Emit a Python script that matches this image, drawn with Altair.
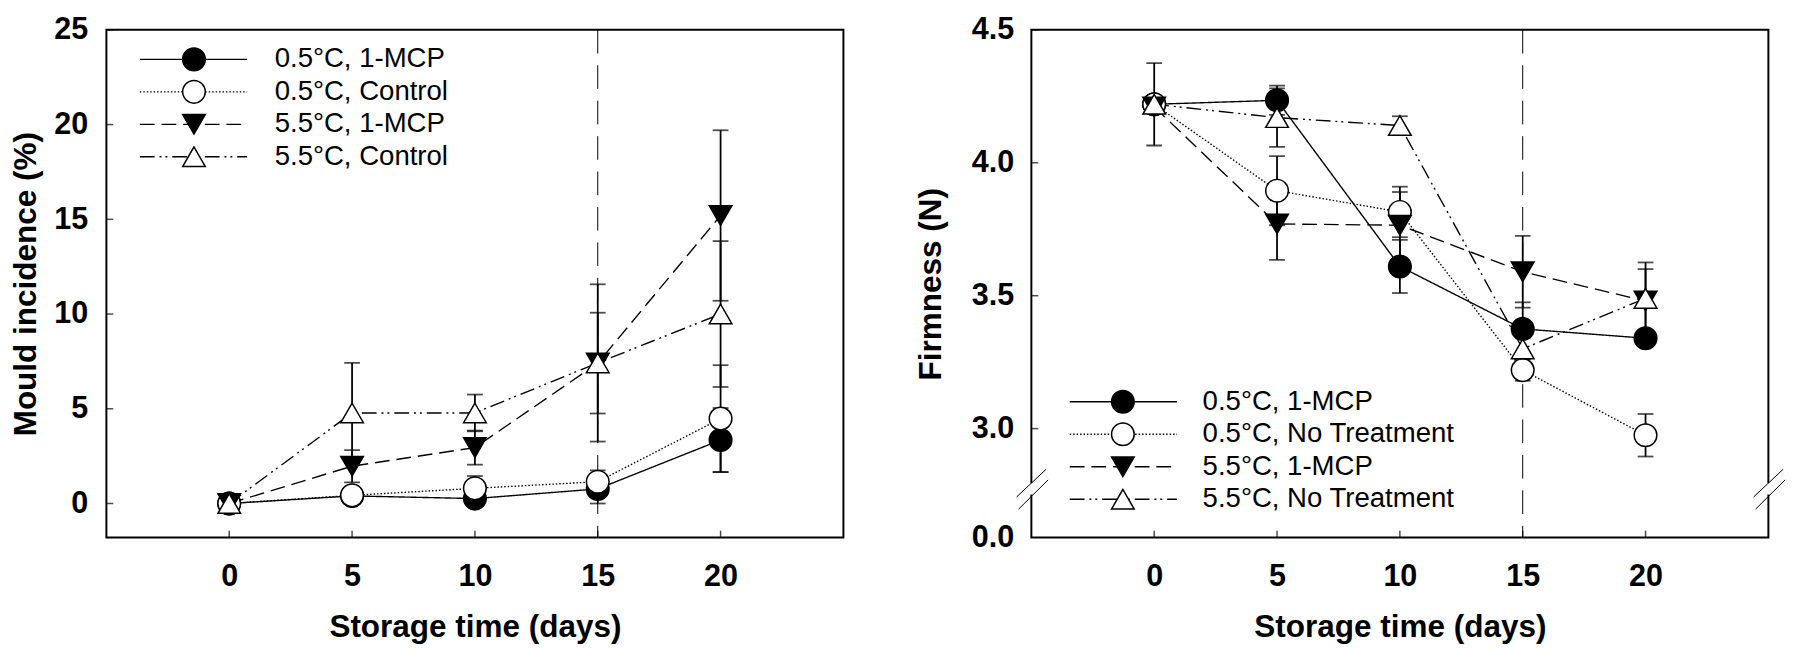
import altair as alt
import pandas as pd

# ---------------- data ----------------
days = [0, 5, 10, 15, 20]
series_keys = ["s1", "s2", "s3", "s4"]

# Mould incidence (%)
mould_labels = ["0.5°C, 1-MCP", "0.5°C, Control", "5.5°C, 1-MCP", "5.5°C, Control"]
mould_s1 = [0.0, 0.40, 0.26, 0.77, 3.35]
mould_s2 = [0.0, 0.43, 0.80, 1.15, 4.48]
mould_s3 = [0.0, 1.97, 2.95, 7.41, 15.2]
mould_s4 = [0.0, 4.78, 4.78, 7.42, 10.0]
mould_s1_err = [0.0, 0.0, 0.0, 0.77, 1.69]
mould_s2_err = [0.0, 0.0, 0.65, 0.60, 2.82]
mould_s3_err = [0.0, 0.85, 0.90, 2.66, 4.50]
mould_s4_err = [0.0, 2.64, 0.97, 4.15, 3.85]

# Firmness (N)
firm_labels = ["0.5°C, 1-MCP", "0.5°C, No Treatment", "5.5°C, 1-MCP", "5.5°C, No Treatment"]
firm_s1 = [4.22, 4.235, 3.61, 3.375, 3.34]
firm_s2 = [4.22, 3.895, 3.815, 3.22, 2.975]
firm_s3 = [4.21, 3.77, 3.765, 3.59, 3.48]
firm_s4 = [4.22, 4.17, 4.14, 3.30, 3.49]
firm_s1_err = [0.0, 0.055, 0.10, 0.10, 0.03]
firm_s2_err = [0.0, 0.13, 0.095, 0.04, 0.08]
firm_s3_err = [0.0, 0.135, 0.125, 0.135, 0.12]
firm_s4_err = [0.155, 0.11, 0.035, 0.04, 0.135]

mould_yticks = [0, 5, 10, 15, 20, 25]
firm_yticks = [2.59, 3.0, 3.5, 4.0, 4.5]
firm_tickmarks = [3.0, 3.5, 4.0, 4.5]
marker_line_day = [15]
firm_break = [2.743, 2.847, 2.697, 2.807, 2.752, 2.795]  # break symbol (axis values)

# ---------------- styles ----------------
shapes = ["circle", "circle", "triangle-down", "triangle-up"]
fills = ["black", "white", "black", "white"]
dashes = [[1, 0], [1.5, 2], [15, 7], [15, 5, 2, 4, 2, 5]]
FONT = "Liberation Sans"
W, H = 749, 516
MSIZE = 529


def panel(vals, errs, labels, ydom, yticks, ytickmarks, ytitle, label_expr,
          lab_pad, title_pad, legend_rows, legend_x, breaks=None):
    rows = []
    for si, key in enumerate(series_keys):
        for d, v, e in zip(days, vals[si], errs[si]):
            rows.append({"series": key, "day": d, "value": v, "err": e})
    df = pd.DataFrame(rows)

    xscale = alt.Scale(domain=[-5, 25], nice=False, zero=False)
    yscale = alt.Scale(domain=ydom, nice=False, zero=False)
    xaxis = alt.Axis(values=days, title="Storage time (days)", labelPadding=25,
                     titlePadding=21)
    yargs = dict(values=yticks, title=ytitle, labelPadding=lab_pad, titlePadding=title_pad)
    if label_expr:
        yargs["labelExpr"] = label_expr
    yaxis = alt.Axis(**yargs)

    def X(f):
        return alt.X(f, scale=xscale, axis=xaxis)

    def Y(f):
        return alt.Y(f, scale=yscale, axis=yaxis)

    base = alt.Chart(df)
    lines = base.mark_line(color="black", strokeWidth=1.4).encode(
        x=X("day:Q"), y=Y("value:Q"),
        strokeDash=alt.StrokeDash("series:N", scale=alt.Scale(domain=series_keys, range=dashes),
                                  legend=None),
        order="day:Q",
    )
    eb = base.transform_filter("datum.err > 0").transform_calculate(
        lo="datum.value - datum.err", hi="datum.value + datum.err")
    bars = eb.mark_rule(color="black", strokeWidth=1.8).encode(
        x=X("day:Q"), y=Y("lo:Q"), y2="hi:Q")
    cap_lo = eb.mark_tick(orient="horizontal", size=16, thickness=1.8, color="black").encode(
        x=X("day:Q"), y=Y("lo:Q"))
    cap_hi = eb.mark_tick(orient="horizontal", size=16, thickness=1.8, color="black").encode(
        x=X("day:Q"), y=Y("hi:Q"))
    points = base.mark_point(filled=True, size=MSIZE, stroke="black", strokeWidth=1.5,
                             opacity=1).encode(
        x=X("day:Q"), y=Y("value:Q"),
        shape=alt.Shape("series:N", scale=alt.Scale(domain=series_keys, range=shapes), legend=None),
        fill=alt.Fill("series:N", scale=alt.Scale(domain=series_keys, range=fills), legend=None),
    )
    vline = alt.Chart(pd.DataFrame({"day": marker_line_day})).mark_rule(
        color="black", strokeWidth=1, strokeDash=[24, 12]).encode(x=X("day:Q"))

    yt = alt.Chart(pd.DataFrame({"v": ytickmarks})).mark_tick(
        orient="horizontal", size=7, thickness=1.5, color="black").encode(
        y=Y("v:Q"), x=alt.value(3.5))
    xt = alt.Chart(pd.DataFrame({"day": days})).mark_tick(
        orient="vertical", size=7, thickness=1.5, color="black").encode(
        x=X("day:Q"), y=alt.value(H - 3.5))

    layers = [lines, vline, bars, cap_lo, cap_hi, points, yt, xt]

    # legend
    x0, x1, xm, xtxt = legend_x
    leg = pd.DataFrame({"idx": list(range(4)), "label": labels})
    for i in range(4):
        li = alt.Chart(leg).transform_filter(f"datum.idx == {i}")
        yi = legend_rows[i]
        layers.append(li.mark_rule(color="black", strokeWidth=1.4, strokeDash=dashes[i]).encode(
            x=alt.value(x0), x2=alt.value(x1), y=alt.value(yi)))
        layers.append(li.mark_point(filled=True, size=MSIZE, shape=shapes[i], fill=fills[i],
                                    stroke="black", strokeWidth=1.5, opacity=1).encode(
            x=alt.value(xm), y=alt.value(yi)))
        layers.append(li.mark_text(align="left", baseline="middle", font=FONT, fontSize=28,
                                   color="black").encode(
            x=alt.value(xtxt), y=alt.value(yi), text="label:N"))

    if breaks:
        a0, a1, b0, b1, g0, g1 = breaks
        bd = alt.Chart(pd.DataFrame({"k": [0]}))
        for xc in (0, W):
            layers.append(bd.mark_rect(color="white").encode(
                x=alt.value(xc - 3), x2=alt.value(xc + 3),
                y=alt.datum(g0, scale=yscale), y2=alt.datum(g1)))
            layers.append(bd.mark_rule(color="black", strokeWidth=1).encode(
                x=alt.value(xc - 15), x2=alt.value(xc + 15),
                y=alt.datum(a0, scale=yscale), y2=alt.datum(a1)))
            layers.append(bd.mark_rule(color="black", strokeWidth=1).encode(
                x=alt.value(xc - 13), x2=alt.value(xc + 17),
                y=alt.datum(b0, scale=yscale), y2=alt.datum(b1)))

    return alt.layer(*layers).properties(width=W, height=H)


left = panel(
    [mould_s1, mould_s2, mould_s3, mould_s4],
    [mould_s1_err, mould_s2_err, mould_s3_err, mould_s4_err],
    mould_labels, [-1.8, 25], mould_yticks, mould_yticks, "Mould incidence (%)", None,
    19, 12, [30, 63, 96, 129], (34, 143, 89, 171),
)
right = panel(
    [firm_s1, firm_s2, firm_s3, firm_s4],
    [firm_s1_err, firm_s2_err, firm_s3_err, firm_s4_err],
    firm_labels, [2.59, 4.5], firm_yticks, firm_tickmarks, "Firmness (N)",
    "datum.value < 2.8 ? '0.0' : format(datum.value, '.1f')",
    18, 24, [H - 138, H - 105, H - 72, H - 39], (39, 148, 93, 174),
    breaks=firm_break,
)

chart = alt.hconcat(left, right, spacing=70).properties(
    padding={"left": 0, "top": 0, "right": 5, "bottom": 0}
).configure_view(stroke="black", strokeWidth=2).configure_axis(
    domain=False, ticks=False, grid=False,
    labelFont=FONT, labelFontWeight="bold", labelFontSize=31, labelColor="black",
    titleFont=FONT, titleFontWeight="bold", titleFontSize=32, titleColor="black",
    labelFlush=False,
)

chart.save("out.html", embed_options={"renderer": "svg", "actions": False})
